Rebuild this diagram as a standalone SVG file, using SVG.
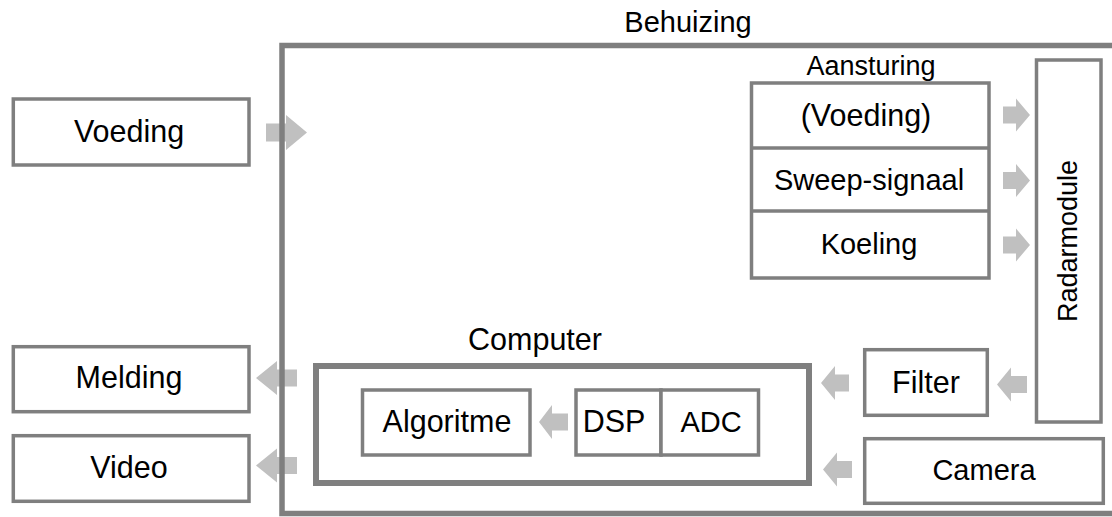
<svg xmlns="http://www.w3.org/2000/svg" width="1112" height="517" viewBox="0 0 1112 517">
<style>
.box{fill:#fff;stroke:#7f7f7f;stroke-width:3.5}
.thick{fill:none;stroke:#7f7f7f;stroke-width:6}
.ln{stroke:#7f7f7f;stroke-width:3.5}
.arr{fill:#c0c0c0;stroke:none}
text{font-family:"Liberation Sans",Arial,sans-serif;font-size:29px;fill:#000;text-anchor:middle}
.lg{font-size:30.5px}
.sm{font-size:27px}
</style>
<rect width="1112" height="517" fill="#fff"/>
<g id="connectors">
<polygon class="arr" points="266,123.5 286,123.5 286,115 307,132.5 286,150 286,141.5 266,141.5"/>
<polygon class="arr" points="1003,106.5 1016,106.5 1016,98.5 1030,115 1016,131.5 1016,123.5 1003,123.5"/>
<polygon class="arr" points="1003,172 1016,172 1016,164 1030,180.5 1016,197 1016,189 1003,189"/>
<polygon class="arr" points="1003,236.5 1016,236.5 1016,228.5 1030,245 1016,261.5 1016,253.5 1003,253.5"/>
<polygon class="arr" points="1027,376 1011,376 1011,367.5 997,384.5 1011,401.5 1011,393 1027,393"/>
<polygon class="arr" points="849,374.5 835,374.5 835,366 821,383 835,400 835,391.5 849,391.5"/>
<polygon class="arr" points="852,461 837,461 837,452.5 823,469.5 837,486.5 837,478 852,478"/>
<polygon class="arr" points="297,369.5 277,369.5 277,361 256,378 277,395 277,386.5 297,386.5"/>
<polygon class="arr" points="297,457 277,457 277,448.5 256,465.5 277,482.5 277,474 297,474"/>
<polygon class="arr" points="568,413.5 552,413.5 552,405 539,422 552,439 552,430.5 568,430.5"/>
</g>
<g id="behuizing">
<rect x="282" y="45.5" width="840" height="468" fill="none" stroke="#7f7f7f" stroke-width="5.5"/>
<text x="688" y="32">Behuizing</text>
</g>
<g id="voeding">
<rect class="box" x="13.3" y="99" width="235.7" height="66"/>
<text class="lg" x="129" y="142">Voeding</text>
</g>
<g id="melding">
<rect class="box" x="13.3" y="346.7" width="235.7" height="65"/>
<text class="lg" x="129" y="388">Melding</text>
</g>
<g id="video">
<rect class="box" x="13.3" y="435.7" width="235.7" height="65.6"/>
<text class="lg" x="129" y="478">Video</text>
</g>
<g id="aansturing">
<text class="sm" x="871" y="75">Aansturing</text>
<rect class="box" x="751.5" y="83" width="237.5" height="195"/>
<line class="ln" x1="751.5" y1="148" x2="989" y2="148"/>
<line class="ln" x1="751.5" y1="211" x2="989" y2="211"/>
<text class="lg" x="866" y="126">(Voeding)</text>
<text x="869" y="190">Sweep-signaal</text>
<text x="869" y="254">Koeling</text>
</g>
<g id="radarmodule">
<rect class="box" x="1036.5" y="60" width="64.5" height="362"/>
<text transform="translate(1077,241) rotate(-90)" style="font-size:27px">Radarmodule</text>
</g>
<g id="filter">
<rect class="box" x="864.7" y="349.7" width="122.6" height="65.6"/>
<text class="lg" x="926" y="393">Filter</text>
</g>
<g id="camera">
<rect class="box" x="864.7" y="438.7" width="238.6" height="64.6"/>
<text x="984" y="480">Camera</text>
</g>
<g id="computer">
<text class="lg" x="535" y="350">Computer</text>
<rect class="thick" x="316" y="366" width="493" height="117"/>
</g>
<g id="algoritme">
<rect class="box" x="362.5" y="390" width="167.5" height="65"/>
<text class="lg" x="447" y="432">Algoritme</text>
</g>
<g id="dsp">
<rect class="box" x="576" y="390" width="85" height="65"/>
<text class="lg" x="614" y="432">DSP</text>
</g>
<g id="adc">
<rect class="box" x="661" y="390" width="97.5" height="65"/>
<text x="711" y="432">ADC</text>
</g>
</svg>
